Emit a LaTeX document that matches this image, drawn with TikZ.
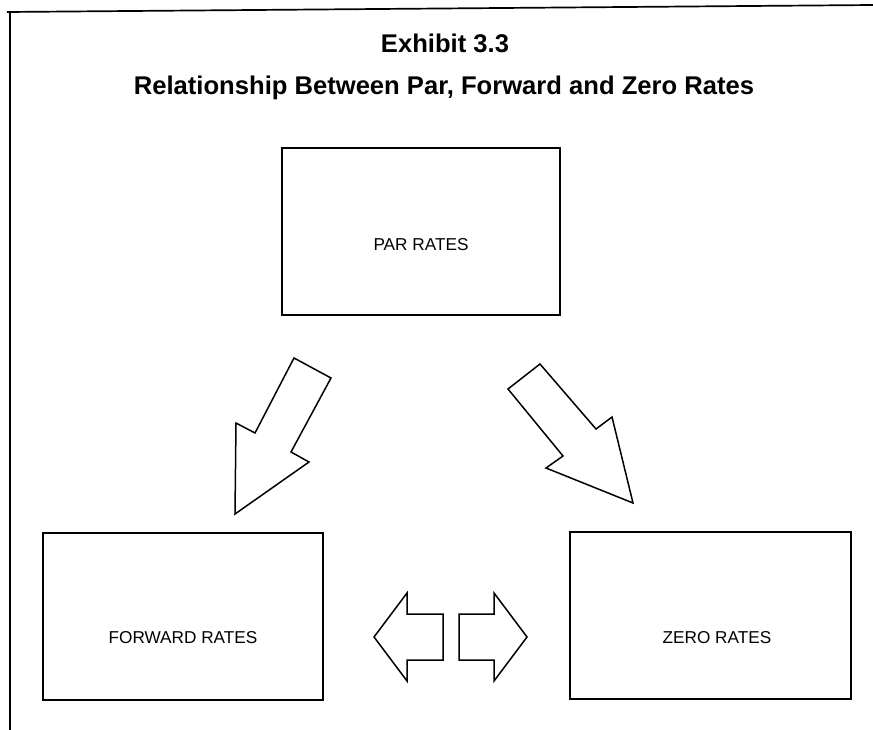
\documentclass[tikz,border=0pt]{standalone}
\usepackage{fontspec}
\setmainfont{Liberation Sans}
\begin{document}
\begin{tikzpicture}[x=1pt,y=-1pt,
  ratebox/.style={draw,line width=1.6pt,inner sep=0pt},
  blockarrow/.style={draw,line width=1.5pt,line join=miter,fill=white},
  boxlabel/.style={font=\fontsize{17.2}{20}\selectfont},
  titletext/.style={font=\fontsize{25.6}{30}\selectfont\bfseries}]
\useasboundingbox (0,0) rectangle (873,730);
% frame
\draw[line width=1.7pt] (7,12) -- (873,5);
\draw[line width=1.7pt] (10,12) -- (10,730);
% titles
\node[titletext] (exh) at (445,43) {Exhibit 3.3};
\node[titletext] (ttl) at (444,88) {Relationship Between Par, Forward and Zero Rates};
% boxes
\draw[ratebox] (282,148) rectangle (560,315);
\node[boxlabel] (par) at (421,245) {PAR RATES};
\draw[ratebox] (43,533) rectangle (323,700);
\node[boxlabel] (fwd) at (183,638) {FORWARD RATES};
\draw[ratebox] (570,532) rectangle (851,699);
\node[boxlabel] (zero) at (717,638) {ZERO RATES};
% block arrows
\draw[blockarrow] (294,358) -- (331,378) -- (291,452) -- (309,462) -- (235,514) -- (236,423) -- (255,433) -- cycle;
\draw[blockarrow] (540,364) -- (508,389) -- (563,456) -- (546,468) -- (633,503) -- (612,417) -- (596,429) -- cycle;
\draw[blockarrow] (374,637) -- (407,593) -- (407,614) -- (443,614) -- (443,660) -- (407,660) -- (407,681) -- cycle;
\draw[blockarrow] (459,614) -- (494,614) -- (494,593) -- (527,637) -- (494,681) -- (494,660) -- (459,660) -- cycle;
\end{tikzpicture}
\end{document}
